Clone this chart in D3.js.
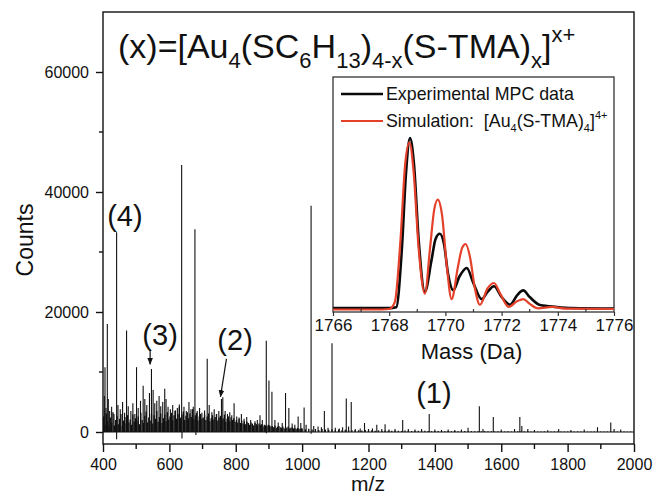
<!DOCTYPE html>
<html>
<head>
<meta charset="utf-8">
<script src="https://cdn.jsdelivr.net/npm/d3@7/dist/d3.min.js"></script>
<style>
  html, body { margin: 0; padding: 0; background: #fff; }
  svg { display: block; font-family: "Liberation Sans", Arial, sans-serif; }
</style>
</head>
<body>
<svg id="chart" width="654" height="496"></svg>
<script>
// ---- main ESI-MS spectrum: m/z vs counts ----
// prominent peaks [m/z, counts]
const peakMz = [404, 406, 409, 413, 416, 420, 426, 433, 441, 445, 452, 459, 465, 471, 476, 484, 490, 496, 501, 506, 513, 521, 526, 532, 540, 546, 551, 556, 562, 569, 574, 580, 586, 590, 596, 603, 610, 617, 624, 630, 637, 644, 651, 659, 665, 672, 677, 684, 691, 698, 706, 714, 720, 728, 735, 742, 749, 757, 761, 768, 775, 782, 788, 795, 803, 810, 817, 825, 833, 845, 858, 865, 873, 880, 892, 900, 909, 918, 928, 940, 950, 960, 970, 978, 988, 996, 1006, 1012, 1027, 1035, 1048, 1058, 1067, 1078, 1090, 1100, 1112, 1122, 1133, 1140, 1148, 1160, 1175, 1188, 1200, 1212, 1225, 1240, 1250, 1262, 1280, 1303, 1320, 1340, 1360, 1383, 1400, 1420, 1440, 1460, 1480, 1500, 1534, 1545, 1576, 1600, 1640, 1656, 1662, 1680, 1700, 1740, 1773, 1810, 1850, 1890, 1930, 1940, 1960];
const peakCounts = [6000, 10800, 4000, 18000, 5500, 3500, 4200, 3000, 33300, 4500, 3800, 5000, 3200, 16900, 4300, 3500, 4800, 3000, 10800, 4000, 5200, 7700, 5500, 4500, 6500, 10500, 7000, 4800, 5200, 6000, 4300, 5000, 7200, 5500, 4200, 3800, 4500, 3500, 4000, 4600, 44500, 4200, 3500, 5000, 3800, 4200, 33800, 3500, 4000, 3200, 3600, 12200, 4500, 3300, 3800, 3000, 3500, 5500, 5800, 3500, 3000, 3300, 2800, 4800, 2600, 2400, 3000, 2200, 2500, 2000, 1800, 2000, 2800, 2000, 15200, 8600, 6700, 2000, 1600, 1500, 6500, 4000, 1400, 1200, 2600, 1500, 4100, 1200, 37700, 1000, 900, 800, 3500, 700, 14800, 700, 600, 800, 5600, 900, 5000, 500, 600, 1500, 500, 600, 1200, 500, 1300, 400, 500, 2000, 500, 400, 500, 3000, 400, 350, 400, 350, 400, 700, 4300, 500, 2500, 400, 500, 2500, 1000, 500, 350, 300, 500, 350, 400, 800, 1600, 500, 400];
// downward spikes below the baseline [m/z, counts]
const dipMz = [441, 638, 680, 892, 1027];
const dipCounts = [-1200, -1100, -500, -200, -300];
// dense low-level noise ("grass"): 402–998 every 4 m/z, then 1000–1990 every 10 m/z
const grassLowStart = 402, grassLowStep = 4;
const grassLowCounts = [
  2600, 1200, 3100, 1800, 900, 2400, 1500, 3300, 1100, 2000, 2700, 1300, 2200, 3000, 1000, 1900, 2500, 1400, 2800, 1600, 2100, 1200, 2900, 1700, 2300,
  1800, 2600, 1300, 3200, 2000, 1500, 2700, 3400, 1600, 2400, 1900, 3000, 1400, 2800, 2200, 3500, 1700, 2500, 3100, 1500, 2300, 2900, 1800, 3300, 2100,
  2600, 3200, 1900, 2800, 3600, 2200, 3000, 4200, 2400, 2900, 3400, 2000, 2700, 3300, 2300, 3100, 2500, 3800, 2100, 2800, 3200, 1900, 2600, 3000, 2200,
  2400, 2900, 2000, 2600, 3100, 1800, 2300, 2800, 2100, 2500, 3000, 1900, 2400, 2700, 2000, 2300, 2900, 1700, 2200, 2600, 1800, 2400, 2000, 2300, 1700,
  2000, 1600, 2200, 1500, 1900, 1400, 1800, 1300, 1700, 1500, 1200, 1600, 1400, 1100, 1500, 1300, 1000, 1400, 1200, 1300, 900, 1200, 1100, 1000, 1200,
  1100, 900, 1000, 800, 1100, 700, 900, 1000, 800, 700, 900, 600, 800, 700, 900, 600, 700, 800, 600, 700, 500, 700, 600, 500, 600
];
const grassHighStart = 1000, grassHighStep = 10;
const grassHighCounts = [
  600, 450, 550, 400, 500, 350, 480, 420, 380, 450, 350, 400, 300, 380, 330, 280, 350, 300, 260, 320,
  250, 300, 220, 280, 200, 260, 230, 190, 250, 210, 180, 230, 200, 170, 220, 190, 160, 200, 180, 150,
  180, 150, 200, 140, 170, 130, 160, 140, 120, 170, 130, 150, 120, 140, 110, 150, 120, 130, 100, 140,
  120, 100, 130, 90, 110, 120, 90, 100, 130, 80, 110, 90, 100, 120, 80, 90, 110, 80, 100, 90,
  100, 80, 90, 110, 70, 90, 80, 100, 70, 90, 80, 70, 100, 80, 60, 90, 70, 80, 60, 70
];
const xTicksMajor = [400, 600, 800, 1000, 1200, 1400, 1600, 1800, 2000];
const xTicksMinor = [500, 700, 900, 1100, 1300, 1500, 1700, 1900];
const yTicksMajor = [0, 20000, 40000, 60000];
const yTicksMinor = [10000, 30000, 50000];

// ---- inset: isotope pattern of the 4+ ion (normalised intensity) ----
const expMass = [1766.0, 1767.0, 1768.0, 1768.25, 1768.45, 1768.6, 1768.74, 1768.88, 1769.05, 1769.27, 1769.5, 1769.65, 1769.8, 1769.95, 1770.1, 1770.28, 1770.5, 1770.76, 1771.0, 1771.29, 1771.5, 1771.73, 1772.0, 1772.3, 1772.55, 1772.77, 1773.0, 1773.37, 1773.96, 1774.5, 1776.0];
const expIntensity = [0.006, 0.006, 0.005, 0.01, 0.35, 0.8, 1.0, 0.85, 0.4, 0.10, 0.28, 0.41, 0.44, 0.38, 0.2, 0.11, 0.19, 0.24, 0.15, 0.058, 0.10, 0.133, 0.07, 0.025, 0.08, 0.109, 0.07, 0.023, 0.012, 0.006, 0.003];
const simMass = [1766.0, 1767.5, 1768.0, 1768.2, 1768.4, 1768.57, 1768.72, 1768.87, 1769.05, 1769.27, 1769.45, 1769.6, 1769.73, 1769.88, 1770.05, 1770.22, 1770.45, 1770.6, 1770.72, 1770.88, 1771.05, 1771.23, 1771.5, 1771.73, 1771.95, 1772.25, 1772.55, 1772.77, 1773.0, 1773.3, 1773.8, 1774.3, 1776.0];
const simIntensity = [-0.003, -0.003, 0.0, 0.04, 0.4, 0.85, 0.975, 0.8, 0.35, 0.09, 0.35, 0.58, 0.64, 0.55, 0.25, 0.058, 0.25, 0.36, 0.38, 0.3, 0.12, 0.025, 0.12, 0.152, 0.09, 0.012, 0.045, 0.058, 0.03, 0.004, 0.012, 0.002, 0.0];
const insetTicksMajor = [1766, 1768, 1770, 1772, 1774, 1776];
const insetTicksMinor = [1767, 1769, 1771, 1773, 1775];

// ---- layout ----
const svg = d3.select("#chart");
const plot = { left: 103, right: 634, top: 12, bottom: 444 };
const x = d3.scaleLinear().domain([400, 2000]).range([plot.left, plot.right]);
const y = d3.scaleLinear().domain([-2000, 70000]).range([plot.bottom, plot.top]);

const ink = "#111";

// noise sticks
const grass = [];
grassLowCounts.forEach((c, i) => grass.push([grassLowStart + i * grassLowStep, c]));
grassHighCounts.forEach((c, i) => grass.push([grassHighStart + i * grassHighStep, c]));

const spectrum = svg.append("g").attr("class", "spectrum");
spectrum.selectAll("line.grass").data(grass).join("line")
  .attr("class", "grass")
  .attr("x1", d => x(d[0])).attr("x2", d => x(d[0]))
  .attr("y1", y(0)).attr("y2", d => y(d[1]))
  .attr("stroke", ink).attr("stroke-width", 1.35);

// baseline
spectrum.append("line")
  .attr("x1", x(400)).attr("x2", x(2000))
  .attr("y1", y(0)).attr("y2", y(0))
  .attr("stroke", ink).attr("stroke-width", 1.2);

const peaks = peakMz.map((m, i) => [m, peakCounts[i]]);
spectrum.selectAll("line.peak").data(peaks).join("line")
  .attr("class", "peak")
  .attr("x1", d => x(d[0])).attr("x2", d => x(d[0]))
  .attr("y1", y(0)).attr("y2", d => y(d[1]))
  .attr("stroke", ink).attr("stroke-width", 1.1);

const dips = dipMz.map((m, i) => [m, dipCounts[i]]);
spectrum.selectAll("line.dip").data(dips).join("line")
  .attr("class", "dip")
  .attr("x1", d => x(d[0])).attr("x2", d => x(d[0]))
  .attr("y1", y(0)).attr("y2", d => y(d[1]))
  .attr("stroke", ink).attr("stroke-width", 1.1);

// frame
svg.append("rect")
  .attr("x", plot.left).attr("y", plot.top)
  .attr("width", plot.right - plot.left).attr("height", plot.bottom - plot.top)
  .attr("fill", "none").attr("stroke", ink).attr("stroke-width", 1.4);

// x axis
const xAxis = svg.append("g").attr("transform", `translate(0,${plot.bottom})`)
  .call(d3.axisBottom(x).tickValues(xTicksMajor).tickSize(8).tickSizeOuter(0).tickFormat(d3.format("d")));
xAxis.append("g").selectAll("line").data(xTicksMinor).join("line")
  .attr("x1", d => x(d)).attr("x2", d => x(d)).attr("y1", 0).attr("y2", 5)
  .attr("stroke", ink).attr("stroke-width", 1.4);

// y axis
const yAxis = svg.append("g").attr("transform", `translate(${plot.left},0)`)
  .call(d3.axisLeft(y).tickValues(yTicksMajor).tickSize(7).tickSizeOuter(0).tickFormat(d3.format("d")));
yAxis.append("g").selectAll("line").data(yTicksMinor).join("line")
  .attr("x1", 0).attr("x2", -4).attr("y1", d => y(d)).attr("y2", d => y(d))
  .attr("stroke", ink).attr("stroke-width", 1.4);

[xAxis, yAxis].forEach(a => {
  a.select(".domain").remove();
  a.selectAll(".tick line").attr("stroke", ink).attr("stroke-width", 1.4);
  a.selectAll(".tick text").attr("fill", ink).style("font-size", "16px")
    .style("font-family", "'Liberation Sans', Arial, sans-serif");
});
xAxis.selectAll(".tick text").attr("dy", "0").attr("y", 25.5);
yAxis.selectAll(".tick text").attr("x", -14);

// axis titles
svg.append("text").attr("x", 368).attr("y", 491.3).attr("text-anchor", "middle")
  .style("font-size", "21px").attr("fill", ink).text("m/z");
svg.append("text").attr("transform", "translate(33,240) rotate(-90)").attr("text-anchor", "middle")
  .style("font-size", "23px").attr("fill", ink).text("Counts");

// formula title
const title = svg.append("text").attr("x", 118).attr("y", 58).style("font-size", "34px").attr("fill", ink);
const subDy = 10, supDy = -16;
function piece(t, kind) {
  const s = title.append("tspan").text(t).style("font-size", "22px");
  s.attr("dy", kind === "sub" ? subDy : supDy);
  return s;
}
title.append("tspan").text("(x)=[Au");
piece("4", "sub");
title.append("tspan").attr("dy", -subDy).text("(SC");
piece("6", "sub");
title.append("tspan").attr("dy", -subDy).text("H");
piece("13", "sub");
title.append("tspan").attr("dy", -subDy).text(")");
piece("4-x", "sub");
title.append("tspan").attr("dy", -subDy).text("(S-TMA)");
piece("x", "sub");
title.append("tspan").attr("dy", -subDy).text("]");
piece("x+", "sup");

// peak-group labels
const groupLabels = [
  { text: "(4)", mz: 466, counts: 34300 },
  { text: "(3)", mz: 572, counts: 14500 },
  { text: "(2)", mz: 798, counts: 13700 },
  { text: "(1)", mz: 1397, counts: 4800 }
];
svg.selectAll("text.group").data(groupLabels).join("text")
  .attr("class", "group")
  .attr("x", d => x(d.mz)).attr("y", d => y(d.counts))
  .attr("text-anchor", "middle").style("font-size", "29px").attr("fill", ink)
  .text(d => d.text);

// arrows for (3) and (2)
const defs = svg.append("defs");
defs.append("marker").attr("id", "arrowhead").attr("viewBox", "0 0 10 10")
  .attr("refX", 9).attr("refY", 5).attr("markerWidth", 6).attr("markerHeight", 6)
  .attr("orient", "auto-start-reverse")
  .append("path").attr("d", "M0,1 L10,5 L0,9 Z").attr("fill", ink);
const arrows = [
  { fromMz: 542, fromCounts: 13800, toMz: 542, toCounts: 11300 },
  { fromMz: 772, fromCounts: 12200, toMz: 754, toCounts: 5900 }
];
svg.selectAll("line.arrow").data(arrows).join("line")
  .attr("class", "arrow")
  .attr("x1", d => x(d.fromMz)).attr("y1", d => y(d.fromCounts))
  .attr("x2", d => x(d.toMz)).attr("y2", d => y(d.toCounts))
  .attr("stroke", ink).attr("stroke-width", 1.2).attr("marker-end", "url(#arrowhead)");

// ---- inset ----
const ins = { left: 333, right: 614, top: 77, bottom: 312 };
const xi = d3.scaleLinear().domain([1766, 1776]).range([ins.left, ins.right]);
const yi = d3.scaleLinear().domain([0, 1]).range([309, 138]);
const inset = svg.append("g").attr("class", "inset");
inset.append("rect").attr("x", ins.left).attr("y", ins.top)
  .attr("width", ins.right - ins.left).attr("height", ins.bottom - ins.top)
  .attr("fill", "#fff").attr("stroke", "#333").attr("stroke-width", 1.3);

const lineGen = d3.line().x(d => xi(d[0])).y(d => yi(d[1])).curve(d3.curveMonotoneX);
const expData = expMass.map((m, i) => [m, expIntensity[i]]);
const simData = simMass.map((m, i) => [m, simIntensity[i]]);
inset.append("path").datum(expData).attr("d", lineGen)
  .attr("fill", "none").attr("stroke", "#0a0a0a").attr("stroke-width", 2.6).attr("stroke-linejoin", "round");
inset.append("path").datum(simData).attr("d", lineGen)
  .attr("fill", "none").attr("stroke", "#e4402a").attr("stroke-width", 2.2).attr("stroke-linejoin", "round");

const xiAxis = inset.append("g").attr("transform", `translate(0,${ins.bottom})`)
  .call(d3.axisBottom(xi).tickValues(insetTicksMajor).tickSize(4).tickSizeOuter(0).tickFormat(d3.format("d")));
xiAxis.select(".domain").remove();
xiAxis.selectAll(".tick line").attr("stroke", "#333").attr("stroke-width", 1.2);
xiAxis.selectAll(".tick text").attr("fill", ink).attr("y", 4).attr("dy", "0.9em")
  .style("font-size", "17px").style("font-family", "'Liberation Sans', Arial, sans-serif");
xiAxis.append("g").selectAll("line").data(insetTicksMinor).join("line")
  .attr("x1", d => xi(d)).attr("x2", d => xi(d)).attr("y1", 0).attr("y2", -3)
  .attr("stroke", "#333").attr("stroke-width", 1.2);
inset.append("text").attr("x", (ins.left + ins.right) / 2 - 2).attr("y", 359).attr("text-anchor", "middle")
  .style("font-size", "22px").attr("fill", ink).text("Mass (Da)");

// inset legend
const legend = inset.append("g");
legend.append("line").attr("x1", 341).attr("x2", 383).attr("y1", 94).attr("y2", 94)
  .attr("stroke", "#0a0a0a").attr("stroke-width", 2.6);
legend.append("line").attr("x1", 341).attr("x2", 383).attr("y1", 121).attr("y2", 121)
  .attr("stroke", "#e4402a").attr("stroke-width", 2.2);
legend.append("text").attr("x", 386).attr("y", 100).style("font-size", "17.8px").attr("fill", ink)
  .text("Experimental MPC data");
const simLabel = legend.append("text").attr("x", 386).attr("y", 127).style("font-size", "17.8px").attr("fill", ink)
  .attr("xml:space", "preserve");
simLabel.append("tspan").text("Simulation:  [Au");
simLabel.append("tspan").attr("dy", 5).style("font-size", "11px").text("4");
simLabel.append("tspan").attr("dy", -5).text("(S-TMA)");
simLabel.append("tspan").attr("dy", 5).style("font-size", "11px").text("4");
simLabel.append("tspan").attr("dy", -5).text("]");
simLabel.append("tspan").attr("dy", -8).style("font-size", "11px").text("4+");
</script>
</body>
</html>
